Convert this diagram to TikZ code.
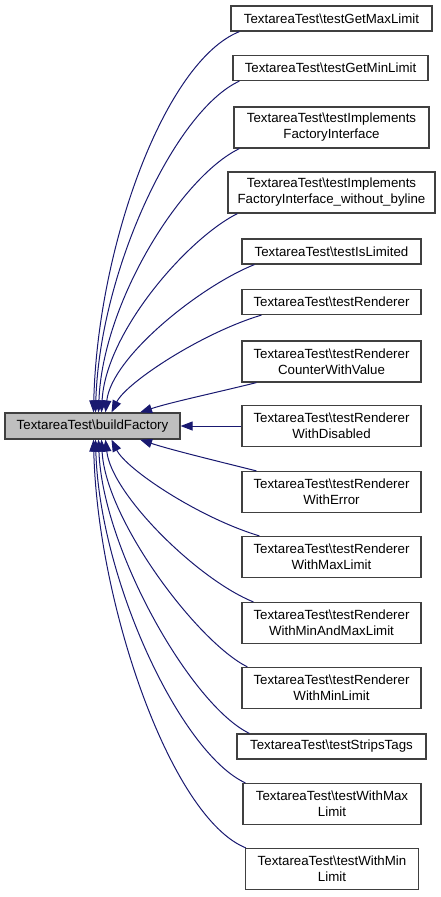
\documentclass[tikz,border=0pt]{standalone}
\usepackage{fontspec}
\setmainfont{Liberation Sans}
\usetikzlibrary{arrows.meta}
\definecolor{mblue}{RGB}{25,25,112}
\definecolor{rootfill}{RGB}{191,191,191}
\definecolor{boxline}{RGB}{64,64,64}
\begin{document}
\begin{tikzpicture}[x=1pt,y=-1pt,
  box/.style={draw=boxline, line width=1.2pt, fill=white, inner sep=0pt, align=center,
    font=\fontsize{13.3}{16}\selectfont, minimum height=25pt},
  twoline/.style={minimum height=41pt},
  rootbox/.style={box, fill=rootfill, minimum width=175pt, minimum height=26pt},
  edge/.style={draw=mblue, line width=1pt, -{Triangle[length=12pt,width=9pt]}, fill=none}]
\useasboundingbox (0,0) rectangle (440,897);
\node[rootbox] (root) at (92.5,426) {TextareaTest\textbackslash buildFactory};
\node[box, minimum width=201pt] (b1) at (331.5,18.5) {TextareaTest\textbackslash testGetMaxLimit};
\node[box, minimum width=195pt] (b2) at (330.5,68) {TextareaTest\textbackslash testGetMinLimit};
\node[box, twoline, minimum width=195pt] (b3) at (331.5,127.5) {TextareaTest\textbackslash testImplements\\FactoryInterface};
\node[box, twoline, minimum width=207pt] (b4) at (331.5,192.5) {TextareaTest\textbackslash testImplements\\FactoryInterface\_without\_byline};
\node[box, minimum width=179pt] (b5) at (331.5,251.5) {TextareaTest\textbackslash testIsLimited};
\node[box, minimum width=179pt] (b6) at (331.5,302) {TextareaTest\textbackslash testRenderer};
\node[box, twoline, minimum width=179pt] (b7) at (331.5,361.5) {TextareaTest\textbackslash testRenderer\\CounterWithValue};
\node[box, twoline, minimum width=179pt] (b8) at (331.5,426) {TextareaTest\textbackslash testRenderer\\WithDisabled};
\node[box, twoline, minimum width=179pt] (b9) at (331.5,492) {TextareaTest\textbackslash testRenderer\\WithError};
\node[box, twoline, minimum width=179pt] (b10) at (331.5,557) {TextareaTest\textbackslash testRenderer\\WithMaxLimit};
\node[box, twoline, minimum width=179pt] (b11) at (331.5,623) {TextareaTest\textbackslash testRenderer\\WithMinAndMaxLimit};
\node[box, twoline, minimum width=179pt] (b12) at (331.5,688) {TextareaTest\textbackslash testRenderer\\WithMinLimit};
\node[box, minimum width=189pt] (b13) at (331.5,746.5) {TextareaTest\textbackslash testStripsTags};
\node[box, twoline, minimum width=178pt] (b14) at (332,804) {TextareaTest\textbackslash testWithMax\\Limit};
\node[box, twoline, minimum width=173pt] (b15) at (332,869) {TextareaTest\textbackslash testWithMin\\Limit};
% top edges
\draw[edge] ([xshift=9pt]b1.south west) .. controls +(-75,30) and +(4,-165) .. ([xshift=1pt]root.north);
\draw[edge] ([xshift=7pt]b2.south west) .. controls +(-65,30) and +(4,-140) .. ([xshift=3pt]root.north);
\draw[edge] ([xshift=6pt]b3.south west) .. controls +(-58,28) and +(4,-110) .. ([xshift=6pt]root.north);
\draw[edge] ([xshift=10pt]b4.south west) .. controls +(-50,25) and +(4,-80) .. ([xshift=9pt]root.north);
\draw[edge] ([xshift=13pt]b5.south west) .. controls +(-55,22) and +(6,-55) .. ([xshift=13pt]root.north);
\draw[edge] ([xshift=20pt]b6.south west) .. controls +(-60,18) and +(15,-30) .. ([xshift=19pt]root.north);
\draw[edge] ([xshift=15pt]b7.south west) .. controls +(-40,10) and +(30,-10) .. ([xshift=47.5pt]root.north);
\draw[edge] (b8.west) -- (root.east);
% bottom edges
\draw[edge] ([xshift=15pt]b9.north west) .. controls +(-40,-10) and +(30,10) .. ([xshift=47.5pt]root.south);
\draw[edge] ([xshift=18pt]b10.north west) .. controls +(-60,-18) and +(15,30) .. ([xshift=19pt]root.south);
\draw[edge] ([xshift=12pt]b11.north west) .. controls +(-55,-22) and +(6,55) .. ([xshift=13pt]root.south);
\draw[edge] ([xshift=6pt]b12.north west) .. controls +(-50,-25) and +(4,80) .. ([xshift=9pt]root.south);
\draw[edge] ([xshift=13pt]b13.north west) .. controls +(-58,-28) and +(4,110) .. ([xshift=6pt]root.south);
\draw[edge] ([xshift=3pt]b14.north west) .. controls +(-65,-30) and +(4,140) .. ([xshift=3pt]root.south);
\draw[edge] ([xshift=1pt]b15.north west) .. controls +(-75,-30) and +(4,165) .. ([xshift=1pt]root.south);
\end{tikzpicture}
\end{document}
